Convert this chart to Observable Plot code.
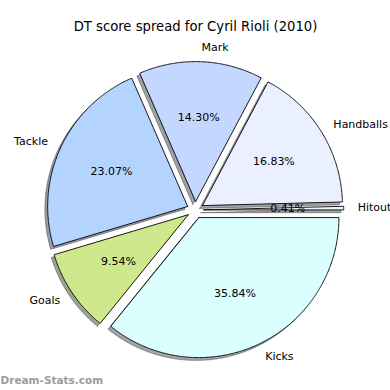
<!DOCTYPE html>
<html><head><meta charset="utf-8">
<script src="https://cdn.jsdelivr.net/npm/d3@7"></script>
<script src="https://cdn.jsdelivr.net/npm/@observablehq/plot@0.6"></script>
<style>body{margin:0;background:#fff}</style>
</head><body><div id="chart"></div>
<script>
const titleText = "DT score spread for Cyril Rioli (2010)";
const watermark = "Dream-Stats.com";
const categories = ["Hitout", "Handballs", "Mark", "Tackle", "Goals", "Kicks"];
const values = [0.41, 16.83, 14.30, 23.07, 9.54, 35.84];
const colors = ["#f4f6ff", "#eaf0ff", "#c4d8ff", "#b4d4ff", "#d0e88c", "#dbffff"];

const W = 390, H = 390, CX = 194.8, CY = 209.5, R = 140;
const explode = 0.06, shadowOff = 0.02, labelDist = 1.1, pctDist = 0.6;
const total = d3.sum(values);
let acc = 0;
const slices = categories.map((name, i) => {
  const a0 = acc / total * 360; acc += values[i]; const a1 = acc / total * 360;
  const am = (a0 + a1) / 2 * Math.PI / 180;
  const ox = explode * Math.cos(am), oy = explode * Math.sin(am);
  const pts = [{x: ox, y: oy}];
  const n = Math.max(2, Math.ceil((a1 - a0) * 2));
  for (let k = 0; k <= n; k++) {
    const t = (a0 + (a1 - a0) * k / n) * Math.PI / 180;
    pts.push({x: ox + Math.cos(t), y: oy + Math.sin(t)});
  }
  pts.push({x: ox, y: oy});
  const c = d3.rgb(colors[i]);
  const shadow = d3.rgb(c.r * 0.3, c.g * 0.3, c.b * 0.3).formatHex();
  return {
    name, color: colors[i], shadow, pts,
    spts: pts.map(p => ({x: p.x - shadowOff, y: p.y - shadowOff})),
    lx: ox + labelDist * Math.cos(am), ly: oy + labelDist * Math.sin(am),
    px: ox + pctDist * Math.cos(am), py: oy + pctDist * Math.sin(am),
    pct: (values[i] / total * 100).toFixed(2) + "%",
    right: Math.cos(am) >= 0
  };
});

const marks = [];
for (const s of slices) {
  marks.push(Plot.line(s.spts, {x: "x", y: "y", fill: s.shadow, fillOpacity: 0.5, stroke: s.shadow, strokeOpacity: 0.5, strokeWidth: 1}));
}
for (const s of slices) {
  marks.push(Plot.line(s.pts, {x: "x", y: "y", fill: s.color, stroke: "#000", strokeWidth: 0.9, strokeLinejoin: "miter"}));
}
const font = {fontFamily: "DejaVu Sans", fill: "#000"};
marks.push(Plot.text(slices.filter(s => s.right), {x: "lx", y: "ly", text: "name", textAnchor: "start", lineAnchor: "middle", fontSize: 11, ...font}));
marks.push(Plot.text(slices.filter(s => !s.right), {x: "lx", y: "ly", text: "name", textAnchor: "end", lineAnchor: "middle", fontSize: 11, ...font}));
marks.push(Plot.text(slices, {x: "px", y: "py", text: "pct", textAnchor: "middle", lineAnchor: "middle", fontSize: 11, ...font}));
marks.push(Plot.text([titleText], {frameAnchor: "top", dy: 26, lineAnchor: "middle", fontSize: 13.2, ...font}));
marks.push(Plot.text([watermark], {frameAnchor: "bottom-left", dy: -10, lineAnchor: "middle", textAnchor: "start", fontSize: 10.5, fontWeight: "bold", fontFamily: "DejaVu Sans", fill: "#9c9c9c"}));

const chart = Plot.plot({
  width: W, height: H,
  margin: 0,
  style: {background: "#fff", overflow: "visible"},
  x: {domain: [-CX / R, (W - CX) / R], range: [0, W], axis: null},
  y: {domain: [-(H - CY) / R, CY / R], range: [H, 0], axis: null},
  marks
});
document.getElementById("chart").appendChild(chart);
</script>
</body></html>
